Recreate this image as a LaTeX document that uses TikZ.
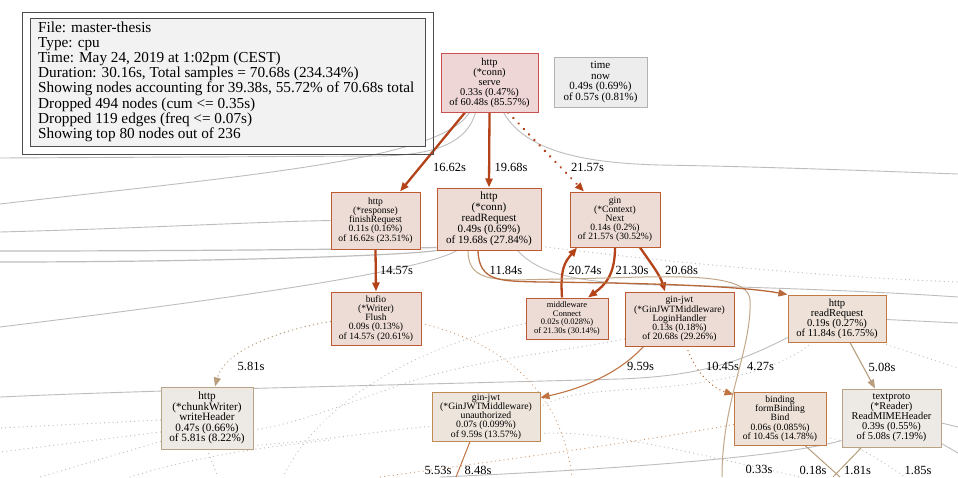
\documentclass[tikz,border=0pt]{standalone}
\usepackage{fontspec}
\setmainfont{Liberation Serif}
\usetikzlibrary{arrows.meta,calc}
\pgfdeclarelayer{bg}
\pgfdeclarelayer{paper}
\pgfsetlayers{paper,bg,main}

% node palettes
\definecolor{fillHot}{HTML}{EDD6D5}\definecolor{drawHot}{HTML}{C8504E}
\definecolor{fillWarm}{HTML}{EDDCD5}\definecolor{drawWarm}{HTML}{BE5A32}
\definecolor{fillMid}{HTML}{EDE1D8}\definecolor{drawMid}{HTML}{C07845}
\definecolor{fillLow}{HTML}{EDE5DC}\definecolor{drawLow}{HTML}{C08A55}
\definecolor{fillCool}{HTML}{EDE9E4}\definecolor{drawCool}{HTML}{B9A286}
\definecolor{fillIdle}{HTML}{EDEDED}\definecolor{drawIdle}{HTML}{B2B2B2}
% edge palettes
\definecolor{edgeHot}{HTML}{B5431A}
\definecolor{edgeWarm}{HTML}{B8683A}
\definecolor{edgeMid}{HTML}{C07444}
\definecolor{edgeTan}{HTML}{B89E7C}
\definecolor{edgeFaint}{HTML}{C2A888}
\definecolor{edgeGray}{HTML}{BDBDBD}
\definecolor{edgeDot}{HTML}{BEBEBE}
\definecolor{edgeDotWarm}{HTML}{D29A70}

\tikzset{
  fn/.style={draw, line width=1pt, inner sep=0pt, align=center, anchor=center},
  tip/.style={-{Triangle[length=9pt,width=7pt]}},
  hotedge/.style={tip, draw=edgeHot, line width=2.3pt},
  warmedge/.style={tip, draw=edgeWarm, line width=1.3pt},
  midedge/.style={tip, draw=edgeMid, line width=1.1pt},
  tanedge/.style={tip, draw=edgeTan, line width=1.1pt},
  dotpat/.style={dash pattern=on 0.1pt off 4.2pt, line cap=round},
  bigdots/.style={dash pattern=on 0.1pt off 7.5pt, line cap=round},
  grayline/.style={draw=edgeGray, line width=0.9pt},
  graydots/.style={draw=edgeDot, line width=1.2pt, dotpat},
  warmdots/.style={draw=edgeDotWarm, line width=1.2pt, dotpat},
  elabel/.style={font=\fontsize{12.5}{13}\selectfont, inner sep=0pt},
}

\begin{document}
\begin{tikzpicture}[x=1pt,y=-1pt]
\useasboundingbox (0,0) rectangle (958,477);
\begin{pgfonlayer}{paper}
\fill[white] (0,0) rectangle (958,477);
\end{pgfonlayer}

% ---- legend ----
\draw[line width=1pt, draw=black!70] (22,12) rectangle (433,154);
\draw[line width=1pt, draw=black!70, fill=black!5] (30,18) rectangle (425,146);
\node[anchor=north west, align=left, inner sep=0pt,
      font=\fontsize{15.25}{15.15}\selectfont] (legend) at (38,21.5)
 {File: master-thesis\\
  Type: cpu\\
  Time: May 24, 2019 at 1:02pm (CEST)\\
  Duration: 30.16s, Total samples = 70.68s (234.34\%)\\
  Showing nodes accounting for 39.38s, 55.72\% of 70.68s total\\
  Dropped 494 nodes (cum <= 0.35s)\\
  Dropped 119 edges (freq <= 0.07s)\\
  Showing top 80 nodes out of 236};

% ---- function nodes ----
\node[fn, fill=fillHot, draw=drawHot, minimum width=97pt, minimum height=59pt,
      font=\fontsize{10.4}{10}\selectfont] (serve) at (489.5,82.5)
 {http\\(*conn)\\serve\\0.33s (0.47\%)\\of 60.48s (85.57\%)};
\node[fn, fill=fillIdle, draw=drawIdle, minimum width=93pt, minimum height=50pt,
      font=\fontsize{11}{10.7}\selectfont] (timenow) at (600.5,82)
 {time\\now\\0.49s (0.69\%)\\of 0.57s (0.81\%)};
\node[fn, fill=fillWarm, draw=drawWarm, minimum width=89pt, minimum height=57pt,
      font=\fontsize{9.6}{9.1}\selectfont] (finish) at (375.5,220.5)
 {http\\(*response)\\finishRequest\\0.11s (0.16\%)\\of 16.62s (23.51\%)};
\node[fn, fill=fillWarm, draw=drawWarm, minimum width=104pt, minimum height=62pt,
      font=\fontsize{11.1}{11}\selectfont] (readreq) at (489,219)
 {http\\(*conn)\\readRequest\\0.49s (0.69\%)\\of 19.68s (27.84\%)};
\node[fn, fill=fillWarm, draw=drawWarm, minimum width=90pt, minimum height=55pt,
      font=\fontsize{9.6}{9.1}\selectfont] (next) at (615,219.5)
 {gin\\(*Context)\\Next\\0.14s (0.2\%)\\of 21.57s (30.52\%)};
\node[fn, fill=fillWarm, draw=drawWarm, minimum width=90pt, minimum height=53pt,
      font=\fontsize{9.6}{9.1}\selectfont] (flush) at (376,318.5)
 {bufio\\(*Writer)\\Flush\\0.09s (0.13\%)\\of 14.57s (20.61\%)};
\node[fn, fill=fillWarm, draw=drawWarm, minimum width=82pt, minimum height=41pt,
      font=\fontsize{8.5}{8.7}\selectfont] (connect) at (567,318.5)
 {middleware\\Connect\\0.02s (0.028\%)\\of 21.30s (30.14\%)};
\node[fn, fill=fillWarm, draw=drawWarm, minimum width=109pt, minimum height=54pt,
      font=\fontsize{9.6}{9.1}\selectfont] (login) at (679.5,319)
 {gin-jwt\\(*GinJWTMiddleware)\\LoginHandler\\0.13s (0.18\%)\\of 20.68s (29.26\%)};
\node[fn, fill=fillMid, draw=drawMid, minimum width=98pt, minimum height=47pt,
      font=\fontsize{10.6}{10}\selectfont] (rrtwo) at (837,318.5)
 {http\\readRequest\\0.19s (0.27\%)\\of 11.84s (16.75\%)};
\node[fn, fill=fillCool, draw=drawCool, minimum width=92pt, minimum height=62pt,
      font=\fontsize{11.2}{10.5}\selectfont] (chunk) at (207,418)
 {http\\(*chunkWriter)\\writeHeader\\0.47s (0.66\%)\\of 5.81s (8.22\%)};
\node[fn, fill=fillLow, draw=drawLow, minimum width=108pt, minimum height=49pt,
      font=\fontsize{9.7}{9.2}\selectfont] (unauth) at (486,416.5)
 {gin-jwt\\(*GinJWTMiddleware)\\unauthorized\\0.07s (0.099\%)\\of 9.59s (13.57\%)};
\node[fn, fill=fillMid, draw=drawMid, minimum width=92pt, minimum height=53pt,
      font=\fontsize{9.6}{9.2}\selectfont] (bind) at (780,418.5)
 {binding\\formBinding\\Bind\\0.06s (0.085\%)\\of 10.45s (14.78\%)};
\node[fn, fill=fillCool, draw=drawCool, minimum width=99pt, minimum height=58pt,
      font=\fontsize{10.4}{10}\selectfont] (mime) at (891.5,418)
 {textproto\\(*Reader)\\ReadMIMEHeader\\0.39s (0.55\%)\\of 5.08s (7.19\%)};

% free ends of edges leaving the drawing
\coordinate (offA) at (456,477);
\coordinate (offB) at (840,477);
\coordinate (offC) at (833,477);
\coordinate (offD) at (905,477);
\coordinate (offE) at (722,477);
\coordinate (offF) at (572,477);
\coordinate (offG) at (283,477);
\coordinate (offH) at (380,477);

\begin{pgfonlayer}{bg}
% ---- faint background edges ----
\draw[grayline] ($(serve.south)+(-14,0)$) .. controls (468,140) and (440,155) .. (380,156) -- (0,158);
\draw[grayline] ($(serve.south)+(-20,0)$) .. controls (440,160) and (250,175) .. (0,204);
\draw[grayline] ($(serve.south)+(14,0)$) .. controls (525,150) and (580,163) .. (660,165)
                 .. controls (780,167) and (900,172) .. (958,174);
\draw[grayline] (finish.west) .. controls (250,222) and (150,228) .. (0,232);
\draw[grayline, line width=1.2pt] ($(readreq.south west)+(0,-3)$) .. controls (380,249) and (200,251) .. (0,251);
\draw[grayline, line width=1.2pt] (readreq.south west) .. controls (400,256) and (200,262) .. (0,262);
\draw[grayline] ($(readreq.south)+(-32,0)$) .. controls (420,272) and (220,300) .. (0,327);
\draw[grayline] ($(readreq.south east)+(-24,0)$) .. controls (540,275) and (580,283) .. (660,285)
                 .. controls (800,288) and (900,293) .. (958,297);
\draw[grayline] ($(rrtwo.south west)+(0,-5)$) .. controls (740,362) and (700,376) .. (620,379)
                 .. controls (400,385) and (150,390) .. (0,397);
\draw[grayline] ($(rrtwo.east)+(0,1)$) -- (958,323);
\draw[grayline] ($(mime.south west)+(0,-7)$) .. controls (780,458) and (600,470) .. (440,477);
\draw[grayline] ($(mime.east)+(0,5)$) -- (958,427);
\draw[grayline] ($(mime.south east)+(0,-4)$) -- (958,453);

\draw[graydots] ($(readreq.south east)+(0,-4)$) .. controls (700,266) and (850,278) .. (958,282);
\draw[graydots] ($(rrtwo.south east)+(0,2)$) -- (958,368);
\draw[graydots] ($(rrtwo.south)+(-25,0)$) .. controls (780,370) and (720,385) .. (620,390)
                 .. controls (580,393) and (560,396) .. ($(unauth.east)+(0,-10)$);
\draw[graydots] ($(connect.west)+(0,5)$) .. controls (420,345) and (320,400) .. (offG);
\draw[graydots] ($(login.west)+(0,20)$) .. controls (560,352) and (470,360) .. (400,385)
                 .. controls (330,410) and (290,425) .. ($(chunk.east)+(0,12)$);
\draw[graydots] ($(chunk.south east)+(0,-4)$) .. controls (330,440) and (400,428) .. ($(unauth.west)+(0,10)$);
\draw[graydots] ($(chunk.west)+(0,2)$) -- (0,428);
\draw[graydots] ($(chunk.west)+(0,14)$) -- (0,452);
\draw[graydots] ($(chunk.south west)+(0,-8)$) -- (40,477);
\draw[graydots] (130,477) .. controls (200,455) and (280,445) .. (330,440);
\draw[graydots] (chunk.south) -- (218,477);
\draw[graydots] ($(unauth.south east)+(0,-8)$) .. controls (600,430) and (680,450) .. (800,477);
\draw[graydots] ($(bind.south east)+(0,-8)$) .. controls (850,440) and (880,460) .. (offD);

\draw[warmdots] ($(flush.east)+(0,5)$) .. controls (490,340) and (560,380) .. (offF);
\draw[warmdots] ($(bind.west)+(0,6)$) .. controls (650,440) and (540,455) .. (offH);

% ---- call edges ----
\draw[hotedge] ($(serve.south)+(-24.5,0)$) -- ($(finish.north)+(24.5,0)$);
\draw[hotedge] (serve.south) -- (readreq.north);
\draw[hotedge, bigdots, line width=2.6pt] ($(serve.south)+(18.5,0)$) -- ($(next.north)+(-31,0)$);
\draw[hotedge] (finish.south) -- (flush.north);
\draw[hotedge] (next.south) .. controls (615,275) and (605,285) .. ($(connect.north)+(21,0)$);
\draw[hotedge] ($(connect.north)+(-5,0)$) .. controls (560,268) and (565,262) .. ($(next.south)+(-38,0)$);
\draw[hotedge] ($(next.south)+(25,0)$) .. controls (650,262) and (660,275) .. ($(login.north)+(-14.5,0)$);
\draw[draw=edgeFaint, line width=1pt] ($(readreq.south)+(-21,0)$) .. controls (468,285) and (500,280) .. (560,279)
        .. controls (650,278) and (748,268) .. (750,300) .. controls (752,350) and (722,400) .. (offE);
\draw[warmedge] ($(readreq.south)+(-11,0)$) .. controls (479,282) and (500,281) .. (540,282)
        .. controls (650,283) and (740,286) .. (rrtwo.north west);
\draw[midedge] ($(login.south)+(-36,0)$) .. controls (620,372) and (585,388) .. ($(unauth.north east)+(0,6)$);
\draw[midedge, dotpat, line width=1.4pt] ($(login.south)+(7,0)$) .. controls (695,372) and (712,388) .. ($(bind.north west)+(0,3)$);
\draw[tanedge] ($(rrtwo.south)+(13,0)$) -- ($(mime.north)+(-16.5,0)$);
\draw[tanedge, dotpat, line width=1.4pt] ($(flush.west)+(0,3)$) .. controls (280,330) and (225,350) .. ($(chunk.north)+(8,0)$);
\draw[draw=edgeMid, line width=1pt] ($(unauth.south)+(-16,0)$) -- (offA);
\draw[draw=edgeTan, line width=1pt] ($(bind.south)+(25,0)$) -- (offB);
\draw[draw=edgeTan, line width=1pt] ($(mime.south)+(-30,0)$) -- (offC);
\end{pgfonlayer}

% ---- edge weights ----
\node[elabel] (w1) at (449.5,167) {16.62s};
\node[elabel] (w2) at (511,167) {19.68s};
\node[elabel] (w3) at (587.5,167) {21.57s};
\node[elabel] (w4) at (396.5,270) {14.57s};
\node[elabel] (w5) at (506,270) {11.84s};
\node[elabel] (w6) at (585,270) {20.74s};
\node[elabel] (w7) at (632,270) {21.30s};
\node[elabel] (w8) at (681.5,270) {20.68s};
\node[elabel] (w9) at (251,366) {5.81s};
\node[elabel] (w10) at (640.5,366) {9.59s};
\node[elabel] (w11) at (722.5,366) {10.45s};
\node[elabel] (w12) at (760.5,366) {4.27s};
\node[elabel] (w13) at (882,367) {5.08s};
\node[elabel] (w14) at (438,470) {5.53s};
\node[elabel] (w15) at (478,470) {8.48s};
\node[elabel] (w16) at (759,469) {0.33s};
\node[elabel] (w17) at (813,470) {0.18s};
\node[elabel] (w18) at (857.5,470) {1.81s};
\node[elabel] (w19) at (918,470) {1.85s};
\end{tikzpicture}
\end{document}
